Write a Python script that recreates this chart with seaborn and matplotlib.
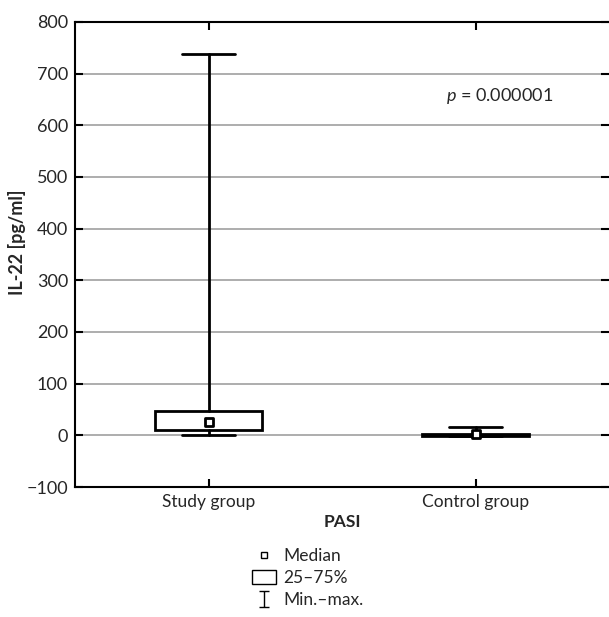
import matplotlib
matplotlib.use("Agg")
import matplotlib.pyplot as plt
import seaborn as sns
import pandas as pd
from matplotlib.lines import Line2D
from matplotlib.patches import Patch
from matplotlib.path import Path

groups = ["Study group", "Control group"]
mins = [0, -2]
q1s = [10, -1]
medians = [25, 3]
q3s = [48, 2]
maxs = [738, 16]
y_ticks = [-100, 0, 100, 200, 300, 400, 500, 600, 700, 800]
p_text = "$p$ = 0.000001"

sns.set_style("white")
plt.rcParams["font.family"] = ["Lato", "DejaVu Sans"]
plt.rcParams["mathtext.fontset"] = "custom"
plt.rcParams["mathtext.it"] = "Lato:italic"
plt.rcParams["mathtext.rm"] = "Lato"

fig = plt.figure(figsize=(6.09, 6.17), dpi=100)
ax = fig.add_axes([75/609, 1-487/617, 534/609, 465/617])

# grid lines
for yv in y_ticks[1:-1]:
    ax.axhline(yv, color="#a0a0a0", lw=1.2, zorder=0)

stats = []
for g, mn, a, md, b, mx in zip(groups, mins, q1s, medians, q3s, maxs):
    stats.append(dict(label=g, whislo=mn, q1=a, med=md, q3=b, whishi=mx, fliers=[]))
ax.bxp(stats, positions=[0, 1], widths=0.4, showfliers=False,
       patch_artist=True,
       boxprops=dict(facecolor="white", edgecolor="black", linewidth=2),
       whiskerprops=dict(color="black", linewidth=2),
       capprops=dict(color="black", linewidth=2),
       medianprops=dict(linewidth=0, color="none"),
       capwidths=0.2, zorder=2)

df = pd.DataFrame({"x": [0, 1], "median": medians})
sns.scatterplot(data=df, x="x", y="median", marker="s", s=36, color="white",
                edgecolor="black", linewidth=2, ax=ax, zorder=3, legend=False)

ax.set_xlim(-0.5, 1.5)
ax.set_ylim(-100, 800)
ax.set_xticks([0, 1])
ax.set_xticklabels(groups, fontsize=12.5)
ax.set_yticks(y_ticks)
ax.set_yticklabels(["\u2212100"] + [str(v) for v in y_ticks[1:]], fontsize=13)
ax.tick_params(axis="both", direction="in", length=6, width=1.5, color="black",
               top=True, right=True, left=True, bottom=True, pad=5)
ax.set_xlabel("PASI", fontsize=12.5, fontweight="bold", labelpad=3)
ax.set_ylabel("IL-22 [pg/ml]", fontsize=13, fontweight="bold")
ax.yaxis.set_label_coords(-0.092, (487 - 242) / 465)
for s in ["left", "bottom", "top"]:
    ax.spines[s].set_visible(True)
    ax.spines[s].set_color("black")
    ax.spines[s].set_linewidth(1.5)
ax.spines["right"].set_visible(False)

ax.text(1.09, 656, p_text, fontsize=13, ha="center", va="center")

ibeam = Path([(-0.7, 1), (0.7, 1), (0, 1), (0, -1), (-0.7, -1), (0.7, -1)],
             [Path.MOVETO, Path.LINETO, Path.MOVETO, Path.LINETO, Path.MOVETO, Path.LINETO])
handles = [
    Line2D([], [], marker="s", ls="none", markersize=4.5, mfc="white", mec="black", mew=1),
    Patch(facecolor="white", edgecolor="black", linewidth=1),
    Line2D([], [], marker=ibeam, ls="none", markersize=11, mec="black", mew=1),
]
labels = ["Median", "25\u201375%", "Min.\u2013max."]
fig.legend(handles, labels, loc="upper center", bbox_to_anchor=(0.505, 1-541/617),
           frameon=False, fontsize=12.5, handlelength=1.4, handleheight=0.8,
           handletextpad=0.4, labelspacing=0.35, borderaxespad=0)

fig.savefig("out.png", dpi=100)
